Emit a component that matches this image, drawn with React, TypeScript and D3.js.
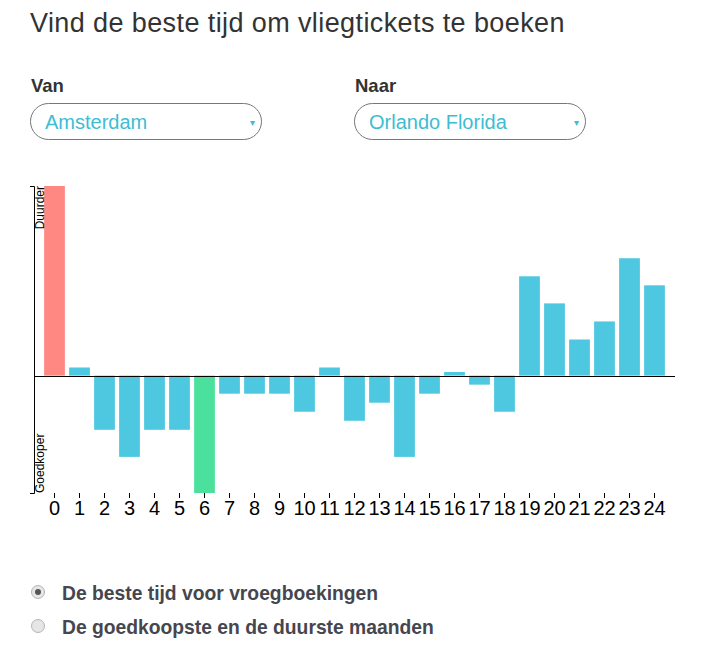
import React, { useEffect, useRef } from 'react';
import * as d3 from 'd3';

// months ahead of departure (0 = this month) and price relative to average
const months = ['0', '1', '2', '3', '4', '5', '6', '7', '8', '9', '10', '11', '12', '13', '14', '15', '16', '17', '18', '19', '20', '21', '22', '23', '24'];
const priceIndex = [21, 0.9, -6, -9, -6, -6, -13, -2, -2, -2, -4, 0.9, -5, -3, -9, -2, 0.4, -1, -4, 11, 8, 4, 6, 13, 10];

const title = 'Vind de beste tijd om vliegtickets te boeken';
const fromLabel = 'Van';
const toLabel = 'Naar';
const fromCity = 'Amsterdam';
const toCity = 'Orlando Florida';
const options = ['De beste tijd voor vroegboekingen', 'De goedkoopste en de duurste maanden'];

const App = () => {
  const svgRef = useRef<SVGSVGElement>(null);

  useEffect(() => {
    const width = 705;
    const height = 653;
    const marginLeft = 34;
    const chartRight = 675;
    const chartTop = 186;
    const chartBottom = 493;
    const font = '"Liberation Sans", Arial, sans-serif';

    const svg = d3.select(svgRef.current)
      .attr('width', width)
      .attr('height', height)
      .style('font-family', font);
    svg.selectAll('*').remove();

    // Heading
    svg.append('text')
      .attr('x', 30)
      .attr('y', 32)
      .attr('font-size', 27)
      .attr('letter-spacing', 0.4)
      .attr('fill', '#333')
      .text(title);

    // Select boxes
    const selects = [
      { x: 30, label: fromLabel, value: fromCity },
      { x: 354, label: toLabel, value: toCity },
    ];
    const sel = svg.append('g').selectAll('g').data(selects).join('g')
      .attr('transform', d => `translate(${d.x},0)`);
    sel.append('text')
      .attr('x', 1)
      .attr('y', 92)
      .attr('font-size', 18.5)
      .attr('font-weight', 'bold')
      .attr('fill', '#333')
      .text(d => d.label);
    sel.append('rect')
      .attr('x', 0.5)
      .attr('y', 103.5)
      .attr('width', 231)
      .attr('height', 36)
      .attr('rx', 18)
      .attr('fill', '#fff')
      .attr('stroke', '#777');
    sel.append('text')
      .attr('x', 15)
      .attr('y', 129)
      .attr('font-size', 20)
      .attr('fill', '#3dbdd2')
      .text(d => d.value);
    sel.append('text')
      .attr('x', 220)
      .attr('y', 126)
      .attr('font-size', 10)
      .attr('fill', '#3dbdd2')
      .text('▾');

    // Scales
    const x = d3.scaleBand()
      .domain(months)
      .range([marginLeft, chartRight])
      .paddingInner(0.17)
      .paddingOuter(0.405);

    const y = d3.scaleLinear()
      .domain([d3.min(priceIndex)!, d3.max(priceIndex)!])
      .range([chartBottom, chartTop]);

    const maxV = d3.max(priceIndex);
    const minV = d3.min(priceIndex);
    const color = (v: number) => v === maxV ? '#ff8883' : v === minV ? '#4be19c' : '#4dc8e0';

    // Bars
    svg.append('g')
      .selectAll('rect')
      .data(priceIndex)
      .join('rect')
      .attr('x', (d, i) => x(months[i])!)
      .attr('y', d => y(Math.max(0, d)))
      .attr('width', x.bandwidth())
      .attr('height', d => Math.abs(y(d) - y(0)))
      .attr('fill', d => color(d));

    // Zero line
    svg.append('line')
      .attr('x1', marginLeft)
      .attr('x2', chartRight)
      .attr('y1', Math.round(y(0)) + 0.5)
      .attr('y2', Math.round(y(0)) + 0.5)
      .attr('stroke', '#000');

    // X axis
    svg.append('g')
      .attr('transform', `translate(0,${chartBottom})`)
      .call(d3.axisBottom(x).tickSize(5).tickPadding(3))
      .call(g => g.select('.domain').remove())
      .call(g => g.selectAll('.tick text')
        .attr('font-size', 20)
        .attr('font-family', font)
        .attr('fill', '#000'));

    // Y axis
    svg.append('g')
      .attr('transform', `translate(${marginLeft},0)`)
      .call(d3.axisLeft(y).tickValues([]).tickSizeOuter(4));

    svg.append('text')
      .attr('transform', `translate(${marginLeft + 10},${chartTop}) rotate(-90)`)
      .attr('text-anchor', 'end')
      .attr('font-size', 12)
      .attr('fill', '#000')
      .text('Duurder');

    svg.append('text')
      .attr('transform', `translate(${marginLeft + 10},${chartBottom}) rotate(-90)`)
      .attr('text-anchor', 'start')
      .attr('font-size', 12)
      .attr('fill', '#000')
      .text('Goedkoper');

    // Radio options
    const radio = svg.append('g').selectAll('g').data(options).join('g')
      .attr('transform', (d, i) => `translate(0,${592 + i * 34})`);
    radio.append('circle')
      .attr('cx', 38)
      .attr('cy', 0)
      .attr('r', 6.5)
      .attr('fill', '#e6e6e6')
      .attr('stroke', '#b5b5b5');
    radio.filter((d, i) => i === 0).append('circle')
      .attr('cx', 38)
      .attr('cy', 0)
      .attr('r', 3)
      .attr('fill', '#555');
    radio.append('text')
      .attr('x', 62)
      .attr('y', 7.5)
      .attr('font-size', 19.3)
      .attr('font-weight', 'bold')
      .attr('fill', '#46464e')
      .text(d => d);
  }, []);

  return (
    <div style={{ position: 'absolute', left: 0, top: 0 }}>
      <svg ref={svgRef}></svg>
    </div>
  );
};

export default App;
